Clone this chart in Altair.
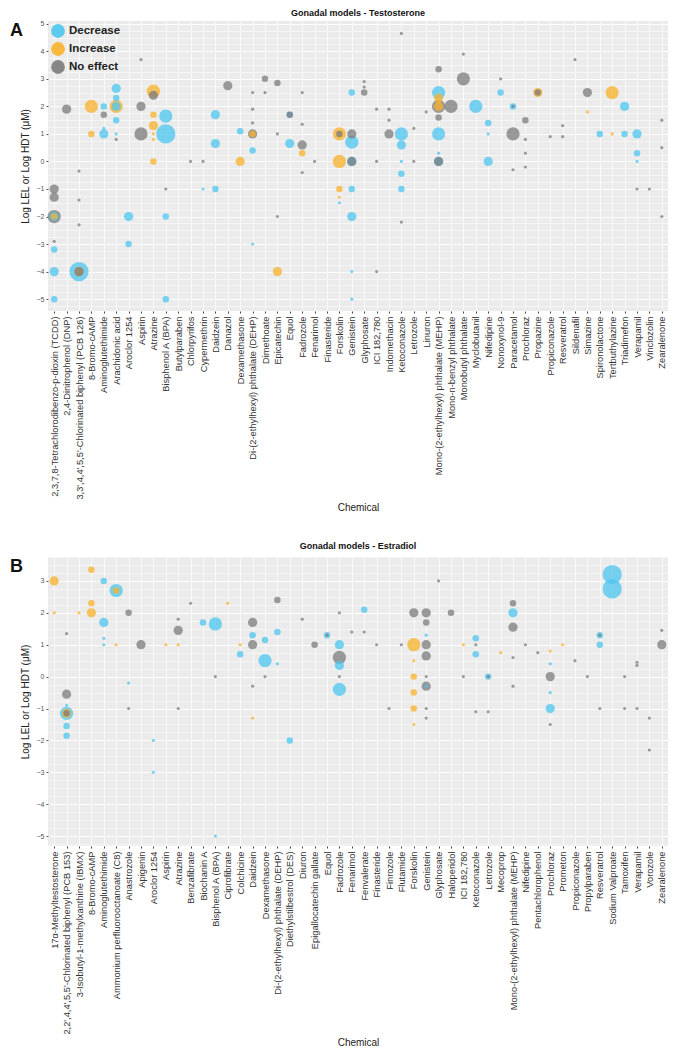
import altair as alt
import pandas as pd

EFFECTS = ["Decrease", "Increase", "No effect"]
COLORS = ["#4CC6F0", "#F8B22A", "#7B7B7B"]
SIZE_BREAKS = [1.5, 2.5, 3.5, 4.5]
SIZE_AREAS = [10, 42, 85, 175, 370]

# ---------------- Panel A: Testosterone ----------------
a_chemicals = [
    "2,3,7,8-Tetrachlorodibenzo-p-dioxin (TCDD)", "2,4-Dinitrophenol (DNP)",
    "3,3',4,4',5,5'-Chlorinated biphenyl (PCB 126)", "8-Bromo-cAMP", "Aminoglutethimide",
    "Arachidonic acid", "Aroclor 1254", "Aspirin", "Atrazine", "Bisphenol A (BPA)",
    "Butylparaben", "Chlorpyrifos", "Cypermethrin", "Daidzein", "Danazol", "Dexamethasone",
    "Di-(2-ethylhexyl) phthalate (DEHP)", "Dimethoate", "Epicatechin", "Equol", "Fadrozole",
    "Fenarimol", "Finasteride", "Forskolin", "Genistein", "Glyphosate", "ICI 182,780",
    "Indomethacin", "Ketoconazole", "Letrozole", "Linuron",
    "Mono-(2-ethylhexyl) phthalate (MEHP)", "Mono-n-benzyl phthalate", "Monobutyl phthalate",
    "Myclobutanil", "Nifedipine", "Nonoxynol-9", "Paracetamol", "Prochloraz", "Propazine",
    "Propiconazole", "Resveratrol", "Sildenafil", "Simazine", "Spironolactone",
    "Tertbuthylazine", "Triadimefon", "Verapamil", "Vinclozolin", "Zearalenone",
]

# (chemical index, log value, size level)
a_decrease = [
    (0, -2.0, 3), (0, -3.2, 2), (0, -4.0, 3), (0, -5.0, 2), (2, -4.0, 5),
    (4, 2.0, 2), (4, 1.2, 1), (4, 1.0, 3),
    (5, 2.65, 3), (5, 2.3, 2), (5, 2.0, 3), (5, 1.5, 2), (5, 1.0, 1),
    (6, -2.0, 3), (6, -3.0, 2),
    (9, 1.65, 4), (9, 1.0, 5), (9, -2.0, 2), (9, -5.0, 2),
    (12, -1.0, 1), (13, 1.7, 3), (13, 0.65, 3), (13, -1.0, 2),
    (15, 1.1, 2), (16, 0.4, 2), (16, -3.0, 1), (19, 1.7, 2), (19, 0.65, 3),
    (23, -1.5, 1),
    (24, 2.5, 2), (24, 0.7, 4), (24, 0.0, 3), (24, -1.0, 2), (24, -2.0, 3), (24, -4.0, 1), (24, -5.0, 1),
    (28, 1.0, 4), (28, 0.6, 3), (28, 0.0, 1), (28, -0.45, 2), (28, -1.0, 2),
    (31, 2.5, 4), (31, 1.0, 4), (31, 0.3, 1), (31, 0.0, 3),
    (34, 2.0, 4), (35, 1.4, 2), (35, 1.0, 1), (35, 0.0, 3), (36, 2.5, 2), (37, 2.0, 2),
    (44, 1.0, 2), (46, 2.0, 3), (46, 1.0, 2), (47, 1.0, 3), (47, 0.3, 2), (47, 0.0, 1),
]
a_increase = [
    (0, -2.0, 2), (2, -4.0, 3), (3, 2.0, 4), (3, 1.0, 2), (5, 2.0, 4),
    (8, 2.55, 4), (8, 1.7, 2), (8, 1.3, 3), (8, 1.0, 1), (8, 0.8, 1), (8, 0.0, 2),
    (15, 0.0, 3), (16, 1.0, 2), (18, -4.0, 3), (20, 0.3, 2),
    (23, 1.0, 4), (23, 0.0, 4), (23, -1.0, 2), (23, -1.3, 1),
    (31, 2.3, 3), (31, 2.0, 3), (39, 2.5, 3), (43, 1.8, 1), (45, 2.5, 4), (45, 1.0, 1),
]
a_noeffect = [
    (0, -1.0, 3), (0, -1.3, 3), (0, -2.0, 4), (0, -2.9, 1), (1, 1.9, 3),
    (2, -0.35, 1), (2, -1.4, 1), (2, -2.3, 1), (2, -4.0, 3), (4, 1.7, 2), (5, 0.8, 1),
    (7, 3.7, 1), (7, 2.0, 3), (7, 1.0, 4), (8, 2.4, 3), (9, -1.0, 1), (11, 0.0, 1), (12, 0.0, 1),
    (14, 2.75, 3), (16, 2.5, 1), (16, 1.9, 1), (16, 1.4, 1), (16, 1.0, 3),
    (17, 3.0, 2), (17, 2.5, 1), (18, 2.85, 2), (18, 1.0, 1), (18, -2.0, 1), (19, 1.7, 2),
    (20, 2.5, 1), (20, 1.35, 1), (20, 0.6, 3), (20, -0.4, 1), (21, 0.0, 1), (23, 1.0, 2),
    (24, 1.0, 3), (24, 0.0, 3), (25, 2.9, 1), (25, 2.7, 1), (25, 2.5, 2),
    (26, 1.9, 1), (26, 0.0, 1), (26, -4.0, 1), (27, 1.9, 1), (27, 1.5, 1), (27, 1.0, 3),
    (28, 4.65, 1), (28, -2.2, 1), (29, 1.2, 1), (29, 0.0, 1), (30, 1.8, 1),
    (31, 3.35, 2), (31, 2.0, 4), (31, 1.6, 2), (31, 0.0, 3), (32, 2.0, 4), (33, 3.9, 1), (33, 3.0, 4),
    (36, 3.0, 1), (37, 2.0, 1), (37, 1.0, 4), (37, -0.3, 1),
    (38, 1.5, 2), (38, 0.8, 1), (38, 0.3, 1), (38, -0.2, 1), (39, 2.5, 2), (40, 0.9, 1),
    (41, 1.3, 1), (41, 0.9, 1), (42, 3.7, 1), (43, 2.5, 3), (47, -1.0, 1), (48, -1.0, 1),
    (49, 1.5, 1), (49, 0.5, 1), (49, -2.0, 1),
]

# ---------------- Panel B: Estradiol ----------------
b_chemicals = [
    "17α-Methyltestosterone", "2,2',4,4',5,5'-Chlorinated biphenyl (PCB 153)",
    "3-Isobutyl-1-methylxanthine (IBMX)", "8-Bromo-cAMP", "Aminoglutethimide",
    "Ammonium perfluorooctanoate (C8)", "Anastrozole", "Apigenin", "Aroclor 1254", "Aspirin",
    "Atrazine", "Benzafibrate", "Biochanin A", "Bisphenol A (BPA)", "Ciprofibrate", "Colchicine",
    "Daidzein", "Dexamethasone", "Di-(2-ethylhexyl) phthalate (DEHP)", "Diethylstilbestrol (DES)",
    "Diuron", "Epigallocatechin gallate", "Equol", "Fadrozole", "Fenarimol", "Fenvalerate",
    "Finasteride", "Finrozole", "Flutamide", "Forskolin", "Genistein", "Glyphosate",
    "Haloperidol", "ICI 182,780", "Ketoconazole", "Letrozole", "Mecoprop",
    "Mono-(2-ethylhexyl) phthalate (MEHP)", "Nifedipine", "Pentachlorophenol", "Prochloraz",
    "Prometon", "Propiconazole", "Propylparaben", "Resveratrol", "Sodium Valproate", "Tamoxifen",
    "Verapamil", "Vorozole", "Zearalenone",
]

b_decrease = [
    (1, -0.9, 1), (1, -1.15, 4), (1, -1.55, 2), (1, -1.85, 2),
    (4, 3.0, 2), (4, 1.7, 3), (4, 1.2, 1), (4, 1.0, 1), (5, 2.7, 4), (6, -0.2, 1),
    (8, -2.0, 1), (8, -3.0, 1), (12, 1.7, 2), (13, 1.65, 4), (13, -5.0, 1), (15, 0.7, 2),
    (16, 1.3, 2), (17, 1.15, 2), (17, 0.5, 4), (18, 1.4, 2), (18, 0.4, 1), (19, -2.0, 2),
    (22, 1.3, 2), (23, 1.0, 3), (23, 0.35, 3), (23, -0.4, 4), (25, 2.1, 2),
    (30, 1.3, 1), (30, -0.3, 1), (34, 1.2, 2), (34, 0.7, 2), (35, 0.0, 2), (37, 2.0, 3),
    (40, 0.4, 1), (40, -0.5, 1), (40, -1.0, 3), (44, 1.3, 2), (44, 1.0, 2),
    (45, 3.2, 5), (45, 2.75, 5),
]
b_increase = [
    (0, 3.0, 3), (0, 2.0, 1), (1, -1.15, 3), (2, 2.0, 1), (3, 3.35, 2), (3, 2.3, 2), (3, 2.0, 3),
    (5, 2.7, 2), (5, 1.0, 1), (9, 1.0, 1), (10, 1.0, 1), (14, 2.3, 1), (15, 1.0, 1), (16, -1.3, 1),
    (29, 1.0, 4), (29, 0.5, 1), (29, 0.0, 2), (29, -0.5, 2), (29, -1.0, 2), (29, -1.5, 1),
    (33, 1.0, 1), (36, 0.75, 1), (40, 0.8, 1), (41, 1.0, 1),
]
b_noeffect = [
    (1, 1.35, 1), (1, -0.55, 3), (1, -1.15, 2), (6, 2.0, 2), (6, -1.0, 1), (7, 1.0, 3),
    (10, 1.8, 1), (10, 1.45, 3), (10, -1.0, 1), (11, 2.3, 1), (13, 0.0, 1),
    (16, 1.7, 3), (16, 1.0, 3), (16, -0.3, 1), (17, 0.0, 1), (18, 2.4, 2), (20, 1.8, 1),
    (21, 1.0, 2), (22, 1.3, 1), (23, 2.0, 1), (23, 0.6, 4), (23, 0.0, 1), (24, 1.4, 1),
    (25, 1.4, 1), (26, 1.0, 1), (27, -1.0, 1), (28, 1.0, 1), (29, 2.0, 3),
    (30, 2.0, 3), (30, 1.7, 2), (30, 1.0, 3), (30, 0.65, 3), (30, 0.0, 1), (30, -0.3, 3),
    (30, -1.0, 1), (30, -1.3, 1), (31, 3.0, 1), (32, 2.0, 2), (33, 0.0, 1),
    (34, 1.0, 1), (34, -1.1, 1), (35, 0.0, 1), (35, -1.1, 1),
    (37, 2.3, 2), (37, 1.55, 3), (37, 0.6, 1), (37, -0.3, 1), (38, 1.0, 1), (39, 0.75, 1),
    (40, 0.0, 3), (40, -1.5, 1), (42, 0.5, 1), (43, 0.0, 1), (44, 1.3, 1), (44, -1.0, 1),
    (46, 0.0, 1), (46, -1.0, 1), (47, 0.45, 1), (47, 0.35, 1), (47, -1.0, 1),
    (48, -1.3, 1), (48, -2.3, 1), (49, 1.45, 1), (49, 1.0, 3),
]


def frame(chems, series):
    rows = []
    for eff, pts in zip(EFFECTS, series):
        for i, v, s in pts:
            rows.append({"Chemical": chems[i], "Value": v, "Effect": eff, "Size": s})
    df = pd.DataFrame(rows)
    return df.sort_values("Size", ascending=False, kind="stable")


def panel(chems, series, domain, height, title, letter, show_legend, xtitle_pad):
    df = frame(chems, series)
    grid_vals = [q / 4 for q in range(int(domain[0] * 4), int(domain[1] * 4) + 1)]
    is_int = "datum.value % 1 === 0"
    legend = None
    if show_legend:
        legend = alt.Legend(
            title=None, orient="top-left", offset=3, symbolType="circle", symbolSize=190,
            symbolOpacity=0.9, symbolStrokeWidth=0, labelFontSize=11.5, labelFontWeight="bold",
            labelColor="#222", rowPadding=4, padding=0, labelFont="Liberation Sans",
        )
    pts = alt.Chart(df).mark_circle(opacity=0.75).encode(
        x=alt.X("Chemical:N", sort=chems,
                scale=alt.Scale(domain=chems, type="point", padding=0.5),
                axis=alt.Axis(title="Chemical", labelAngle=-90, labelFontSize=9.3,
                              labelColor="#333", labelOverlap=False, labelLimit=260,
                              labelPadding=3, tickSize=2, tickColor="#444",
                              grid=True, gridColor="white", gridWidth=0.7, domain=False,
                              titleFontSize=10, titleFontWeight="normal", titleColor="#222",
                              titlePadding=xtitle_pad, labelFont="Liberation Sans",
                              titleFont="Liberation Sans")),
        y=alt.Y("Value:Q", scale=alt.Scale(domain=domain, nice=False, zero=False),
                axis=alt.Axis(title="Log LEL or Log HDT (μM)", values=grid_vals,
                              labelExpr=is_int + " ? format(datum.value, 'd') : ''",
                              labelOverlap=False,
                              labelFontSize=7, labelColor="#555", labelPadding=2,
                              tickSize=2,
                              tickColor={"condition": {"test": is_int, "value": "#555"},
                                         "value": "transparent"},
                              grid=True, gridColor="white",
                              gridWidth={"condition": {"test": is_int, "value": 0.9},
                                         "value": 0.5},
                              domain=False, titleFontSize=10, titleFontWeight="normal",
                              titleColor="#222", titlePadding=6,
                              labelFont="Liberation Sans", titleFont="Liberation Sans")),
        color=alt.Color("Effect:N", scale=alt.Scale(domain=EFFECTS, range=COLORS), legend=legend),
        size=alt.Size("Size:Q", scale=alt.Scale(type="threshold", domain=SIZE_BREAKS,
                                                range=SIZE_AREAS), legend=None),
    )
    lab = alt.Chart(pd.DataFrame({"letter": [letter]})).mark_text(
        align="left", baseline="top", fontSize=18, fontWeight="bold", color="#111",
        font="Liberation Sans",
    ).encode(x=alt.value(-38), y=alt.value(1), text="letter:N")
    return alt.layer(pts, lab).properties(
        width=620, height=height,
        title=alt.Title(title, fontSize=9, fontWeight="bold", anchor="middle", frame="group",
                        offset=2, color="#111", font="Liberation Sans"),
    )


chart_a = panel(a_chemicals, [a_decrease, a_increase, a_noeffect], [-5.43, 5.1], 290,
                "Gonadal models - Testosterone", "A", True, 3)
chart_b = panel(b_chemicals, [b_decrease, b_increase, b_noeffect], [-5.31, 3.75], 289,
                "Gonadal models - Estradiol", "B", False, 3)

chart = alt.vconcat(chart_a, chart_b, spacing=29).resolve_scale(
    color="independent", size="independent", x="independent", y="independent"
).properties(
    padding={"left": 2, "top": 0, "right": 0, "bottom": 0},
    background="white",
).configure_view(fill="#EBEBEB", stroke=None)

chart.save("out.html", embed_options={"renderer": "svg", "actions": False})
